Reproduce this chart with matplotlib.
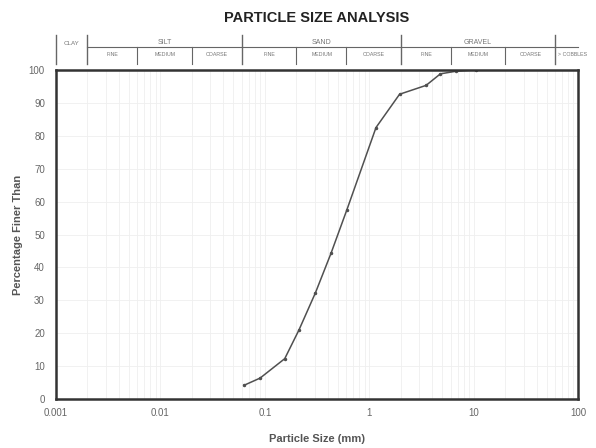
import matplotlib
matplotlib.use("Agg")
import matplotlib.pyplot as plt
import matplotlib.transforms as mtransforms
import numpy as np

plt.rcParams['font.family'] = ['Liberation Sans', 'DejaVu Sans']

# Data
sizes_mm = [0.063, 0.09, 0.155, 0.212, 0.305, 0.43, 0.61, 1.16, 1.95, 3.5, 4.8, 6.8, 10.5]
percent_finer = [4.2, 6.4, 12.3, 21.0, 32.3, 44.3, 57.5, 82.5, 92.6, 95.3, 98.8, 99.6, 100.0]

x_ticks = [0.001, 0.01, 0.1, 1, 10, 100]
x_tick_labels = ["0.001", "0.01", "0.1", "1", "10", "100"]
y_ticks = list(range(0, 101, 10))

# Classification header
main_bounds = [0.002, 0.06, 2, 60]
sub_bounds = [0.006, 0.02, 0.2, 0.6, 6, 20]
main_labels = ["SILT", "SAND", "GRAVEL"]
main_label_x = [0.011, 0.35, 11]
sub_labels = ["FINE", "MEDIUM", "COARSE", "FINE", "MEDIUM", "COARSE", "FINE", "MEDIUM", "COARSE"]
sub_label_x = [0.0035, 0.011, 0.035, 0.11, 0.35, 1.1, 3.5, 11, 35]

fig = plt.figure(figsize=(5.96, 4.48), dpi=100)
ax = fig.add_axes([0.094, 0.109, 0.876, 0.735])

ax.set_xscale("log")
ax.set_xlim(0.001, 100)
ax.set_ylim(0, 100)

ax.grid(True, which="both", axis="x", color="#efefef", lw=0.6)
ax.grid(True, which="major", axis="y", color="#efefef", lw=0.6)

ax.plot(sizes_mm, percent_finer, color="#505050", lw=1.1, marker=".", ms=3)

for s in ax.spines.values():
    s.set_color("#333333")
    s.set_linewidth(1.8)

ax.set_xticks(x_ticks)
ax.set_xticklabels(x_tick_labels)
ax.xaxis.set_minor_formatter(matplotlib.ticker.NullFormatter())
ax.set_yticks(y_ticks)
ax.tick_params(axis="both", which="both", length=0, labelsize=7, colors="#666666")
ax.tick_params(axis="x", pad=6)
ax.tick_params(axis="y", pad=8)

ax.set_xlabel("Particle Size (mm)", fontsize=8, fontweight="bold", color="#555555", labelpad=12)
ax.set_ylabel("Percentage Finer Than", fontsize=8, fontweight="bold", color="#555555", labelpad=4)

fig.text(0.532, 0.960, "PARTICLE SIZE ANALYSIS", ha="center", va="center",
         fontsize=10.5, fontweight="bold", color="#222222")

tr = mtransforms.blended_transform_factory(ax.transData, ax.transAxes)
lc = "#666666"
ax.plot([0.002, 100], [1.07, 1.07], color=lc, lw=0.8, transform=tr, clip_on=False)
for xv in [0.001, 0.002]:
    ax.plot([xv, xv], [1.018, 1.105], color=lc, lw=1.0, transform=tr, clip_on=False)
for xv in main_bounds[1:]:
    ax.plot([xv, xv], [1.018, 1.105], color=lc, lw=1.0, transform=tr, clip_on=False)
for xv in sub_bounds:
    ax.plot([xv, xv], [1.018, 1.07], color=lc, lw=0.8, transform=tr, clip_on=False)

ax.text(0.0014, 1.08, "CLAY", transform=tr, ha="center", va="center", fontsize=4.5, color="#777777")
for lx, lab in zip(main_label_x, main_labels):
    ax.text(lx, 1.083, lab, transform=tr, ha="center", va="center", fontsize=5, color="#777777")
for lx, lab in zip(sub_label_x, sub_labels):
    ax.text(lx, 1.047, lab, transform=tr, ha="center", va="center", fontsize=3.8, color="#777777")
ax.text(64, 1.047, "> COBBLES", transform=tr, ha="left", va="center", fontsize=3.8, color="#777777")

fig.savefig("out.png", dpi=100)
